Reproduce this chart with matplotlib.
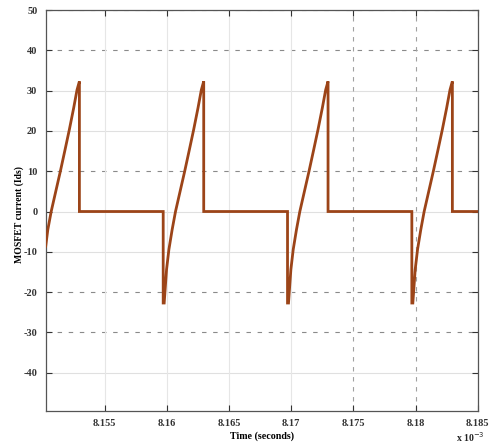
import matplotlib
matplotlib.use("Agg")
import matplotlib.pyplot as plt

# time in units of 1e-3 s
time_ms = [8.15025, 8.15042, 8.15069, 8.15103, 8.15143, 8.15181, 8.15215, 8.15250, 8.15277, 8.15296, 8.15296,
           8.15970, 8.15970, 8.15978, 8.15997, 8.16016, 8.16042, 8.16069, 8.16103, 8.16143, 8.16181,
           8.16215, 8.16250, 8.16277, 8.16296, 8.16296,
           8.16970, 8.16970, 8.16978, 8.16997, 8.17016, 8.17042, 8.17069, 8.17103, 8.17143, 8.17181,
           8.17215, 8.17250, 8.17277, 8.17296, 8.17296,
           8.17970, 8.17970, 8.17978, 8.17997, 8.18016, 8.18042, 8.18069, 8.18103, 8.18143, 8.18181,
           8.18215, 8.18250, 8.18277, 8.18296, 8.18296, 8.18500]
current = [-8.6, -4.5, 0.0, 4.6, 10.0, 15.4, 20.3, 25.7, 30.2, 32.3, 0.0,
           0.0, -22.7, -22.7, -14.4, -9.4, -4.5, 0.0, 4.6, 10.0, 15.4,
           20.3, 25.7, 30.2, 32.3, 0.0,
           0.0, -22.7, -22.7, -14.4, -9.4, -4.5, 0.0, 4.6, 10.0, 15.4,
           20.3, 25.7, 30.2, 32.3, 0.0,
           0.0, -22.7, -22.7, -14.4, -9.4, -4.5, 0.0, 4.6, 10.0, 15.4,
           20.3, 25.7, 30.2, 32.3, 0.0, 0.0]

xticks = [8.155, 8.16, 8.165, 8.17, 8.175, 8.18, 8.185]
xticklabels = ["8.155", "8.16", "8.165", "8.17", "8.175", "8.18", "8.185"]
yticks = [-40, -30, -20, -10, 0, 10, 20, 30, 40, 50]
yticklabels = ["-40", "-30", "-20", "-10", "0", "10", "20", "30", "40", "50"]

plt.rcParams['font.family'] = ['Liberation Serif', 'DejaVu Serif']

fig = plt.figure(figsize=(4.92, 4.45), dpi=100)
ax = fig.add_axes([0.0929, 0.0764, 0.8781, 0.9011])

# grid
for yv in yticks:
    dark = yv in (50, 40, 10, -20, -30)
    ax.axhline(yv, color='#8a8a8a' if dark else '#e0e0e0', lw=0.8,
               ls=(0, (4, 6)) if dark else '-', zorder=0)
for xv in xticks:
    dark = xv in (8.175, 8.18)
    ax.axvline(xv, color='#a0a0a0' if dark else '#e6e6e6', lw=0.8,
               ls=(0, (4, 5)) if dark else '-', zorder=0)

ax.plot(time_ms, current, color='#9c4418', lw=2.0, solid_joinstyle='miter', zorder=3)

ax.set_xlim(8.15025, 8.185)
ax.set_ylim(-49.5, 50)
ax.set_xticks(xticks)
ax.set_xticklabels(xticklabels)
ax.set_yticks(yticks)
ax.set_yticklabels(yticklabels)
ax.tick_params(direction='in', top=True, right=True, length=4, width=0.8,
               labelsize=7.5, colors='#333333', pad=6)
for lab in ax.get_xticklabels() + ax.get_yticklabels():
    lab.set_fontweight('bold')
for sp in ax.spines.values():
    sp.set_color('#555555')
    sp.set_linewidth(0.9)

ax.set_xlabel("Time (seconds)", fontsize=7.2, fontweight='bold', labelpad=2)
ax.set_ylabel("MOSFET current (Ids)", fontsize=7, fontweight='bold')
ax.yaxis.set_label_coords(-0.05, 0.49)
fig.text(0.926, 0.006, r"x 10$^{-3}$", fontsize=7, fontweight='bold', color='#222222',
         va='baseline')

fig.savefig("out.png", dpi=100)
